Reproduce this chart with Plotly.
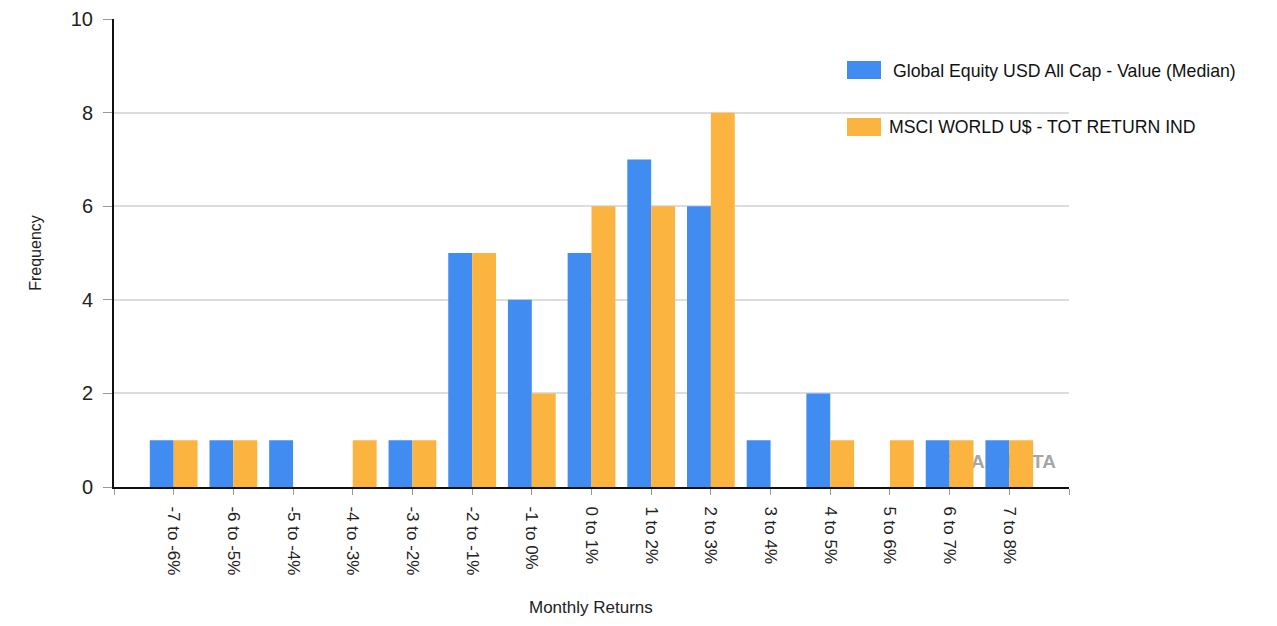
import plotly.graph_objects as go

categories = ["-7 to -6%", "-6 to -5%", "-5 to -4%", "-4 to -3%", "-3 to -2%",
              "-2 to -1%", "-1 to 0%", "0 to 1%", "1 to 2%", "2 to 3%",
              "3 to 4%", "4 to 5%", "5 to 6%", "6 to 7%", "7 to 8%"]
global_equity = [1, 1, 1, 0, 1, 5, 4, 5, 7, 6, 1, 2, 0, 1, 1]
msci_world = [1, 1, 0, 1, 1, 5, 2, 6, 6, 8, 0, 1, 1, 1, 1]
series_names = ["Global Equity USD All Cap - Value (Median)", "MSCI WORLD U$ - TOT RETURN IND"]
series_colors = ["#418CF0", "#FCB441"]
y_ticks = [0, 2, 4, 6, 8, 10]
x_title = "Monthly Returns"
y_title = "Frequency"
watermark = "TREAM DATA"

idx = list(range(len(categories)))
FONT = "Liberation Sans, Arial, sans-serif"

# page offset (default body margin of the html page)
OX, OY = 7, 7
W, H = 1277 - 2 * 8, 626 - 2 * 8
L, T, R, B = 113 - OX, 18 - OY, W - (1068 - OX), H - (486 - OY)
PW, PH = W - L - R, H - T - B

def px(x):
    return (x - OX - L) / PW

def py(y):
    return (H - B - (y - OY)) / PH

fig = go.Figure()

# watermark on base subplot (drawn beneath the bars)
fig.add_trace(go.Scatter(
    x=[14.78], y=[0.51], mode="text", text=[watermark],
    textposition="middle left",
    textfont=dict(family=FONT, size=19, color="#A6A6A6", weight="bold"),
    hoverinfo="skip", showlegend=False, xaxis="x", yaxis="y"))

for name, vals, col in zip(series_names, [global_equity, msci_world], series_colors):
    fig.add_trace(go.Bar(x=idx, y=vals, name=name, marker=dict(color=col, line=dict(width=0)),
                         xaxis="x2", yaxis="y2", showlegend=False))

xr = [-1, len(categories)]
yr = [0, 10.002]
tickvals = [-1] + idx + [len(categories)]
ticktext = [""] + categories + [""]

fig.update_layout(
    width=W, height=H,
    margin=dict(l=L, r=R, t=T, b=B, autoexpand=False),
    paper_bgcolor="white", plot_bgcolor="white",
    barmode="group", bargap=0.2, bargroupgap=0,
    font=dict(family=FONT, color="#222222"),
    xaxis=dict(range=xr, tickvals=tickvals, ticktext=ticktext, tickangle=90,
               showline=True, linecolor="#111111", linewidth=2,
               ticks="outside", ticklen=6, tickcolor="#999999", tickwidth=1,
               showgrid=False, zeroline=False, automargin=False,
               ticklabelstandoff=8,
               tickfont=dict(size=17, color="#222222")),
    yaxis=dict(range=yr, tickvals=y_ticks,
               showline=True, linecolor="#111111", linewidth=2,
               ticks="outside", ticklen=9, tickcolor="#999999", tickwidth=1,
               showgrid=True, gridcolor="#DDDDDD", gridwidth=2, zeroline=False,
               automargin=False, ticklabelstandoff=6,
               tickfont=dict(size=20, color="#222222"),
               title=dict(text=y_title, font=dict(size=16, color="#222222"), standoff=25)),
    xaxis2=dict(range=xr, overlaying="x", visible=False),
    yaxis2=dict(range=yr, overlaying="y", visible=False),
)

# x axis title
fig.add_annotation(xref="paper", yref="paper", x=px(590), y=py(617), text=x_title,
                   showarrow=False, xanchor="center", yanchor="bottom", borderpad=0,
                   font=dict(size=17, color="#222222", family=FONT))

# custom legend
leg = [(60, 78, 890, 70), (117, 135, 886, 126)]
for (y0, y1, tx, ty), name, col in zip(leg, series_names, series_colors):
    fig.add_shape(type="rect", xref="paper", yref="paper",
                  x0=px(846), x1=px(880), y0=py(y1), y1=py(y0),
                  fillcolor=col, line=dict(width=0))
    fig.add_annotation(xref="paper", yref="paper", x=px(tx), y=py(ty),
                       text=name, showarrow=False, xanchor="left", yanchor="middle",
                       font=dict(size=17.7, color="#111111", family=FONT))

fig.write_html("out.html")
